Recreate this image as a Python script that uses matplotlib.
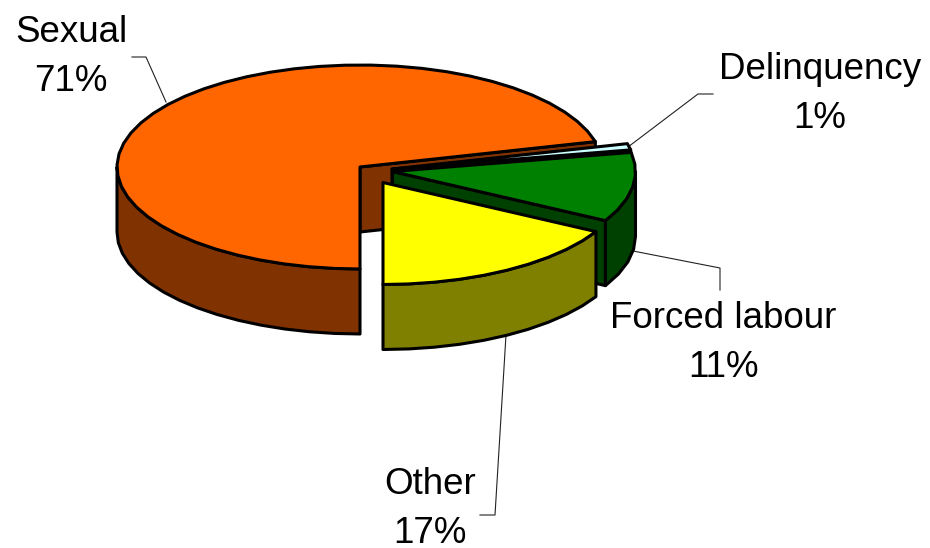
import numpy as np
import matplotlib
matplotlib.use('Agg')
import matplotlib.pyplot as plt
from matplotlib.patches import Polygon
from matplotlib.colors import to_rgb

# chart data
labels = ['Sexual', 'Delinquency', 'Forced labour', 'Other']
values = [71, 1, 11, 17]

# styling / layout (canvas is in pixels)
top_colors = ['#FF6600', '#CCFFFF', '#008000', '#FFFF00']
apex_x = [360, 392, 392.5, 383]
apex_y = [167, 169, 171.5, 182.5]
label_x = [71, 820, 723, 430]
label_y = [57, 94, 343, 509]
leaders = [
    [(132, 57), (146, 57), (166, 102)],
    [(628, 147), (698, 94), (713, 94)],
    [(633, 251), (720, 268), (720, 290)],
    [(506, 335), (495, 515), (480, 515)],
]
RX, RY = 243, 102
DEPTH = 65
EDGE = 2.2

plt.rcParams['font.family'] = ['Liberation Sans', 'DejaVu Sans']

fig = plt.figure(figsize=(9.3, 5.48), dpi=100)
ax = fig.add_axes([0, 0, 1, 1])
ax.set_xlim(0, 930)
ax.set_ylim(548, 0)
ax.axis('off')


def arc(cx, cy, t1, t2):
    # coarse steps, the original outline is faceted too
    n = max(2, int(abs(t2 - t1) / 6) + 1)
    t = np.radians(np.linspace(t1, t2, n))
    return np.column_stack([cx + RX * np.cos(t), cy - RY * np.sin(t)])


def draw_poly(pts, color, z):
    ax.add_patch(Polygon(pts, closed=True, facecolor=color, edgecolor='black',
                         linewidth=EDGE, joinstyle='round', zorder=z))


def cut_wall(cx, cy, t, color, z):
    r = np.radians(t)
    ex, ey = cx + RX * np.cos(r), cy - RY * np.sin(r)
    draw_poly([(cx, cy), (ex, ey), (ex, ey + DEPTH), (cx, cy + DEPTH)], color, z)


# slices go clockwise from straight down
fracs = np.array(values) / sum(values) * 360
starts = -90 - np.concatenate([[0], np.cumsum(fracs)[:-1]])
ends = starts - fracs

# leader lines sit under the pie
for pts in leaders:
    xs, ys = zip(*pts)
    ax.plot(xs, ys, color='#222222', lw=0.8, zorder=1)

for i in range(len(values)):
    cx, cy = apex_x[i], apex_y[i]
    t1, t2 = starts[i], ends[i]
    side = tuple(c * 0.5 for c in to_rgb(top_colors[i]))
    z = 2 + i

    # cut walls that face the viewer
    if np.cos(np.radians(t2)) > 1e-6:
        cut_wall(cx, cy, t2, side, z)
    if np.cos(np.radians(t1)) < -1e-6:
        cut_wall(cx, cy, t1, side, z)

    # outer wall, front half of the ellipse only
    for front_lo, front_hi in [(-180, 0), (-540, -360)]:
        hi = min(t1, front_hi)
        lo = max(t2, front_lo)
        if hi > lo:
            a = arc(cx, cy, hi, lo)
            b = a[::-1] + [0, DEPTH]
            draw_poly(np.vstack([a, b]), side, z)

    # top face
    top = np.vstack([[(cx, cy)], arc(cx, cy, t1, t2)])
    draw_poly(top, top_colors[i], z)

for i in range(len(values)):
    ax.text(label_x[i], label_y[i], f'{labels[i]}\n{values[i]}%', fontsize=26.5,
            ha='center', va='center', linespacing=1.52, color='black', zorder=10)

fig.savefig('out.png', dpi=100)
